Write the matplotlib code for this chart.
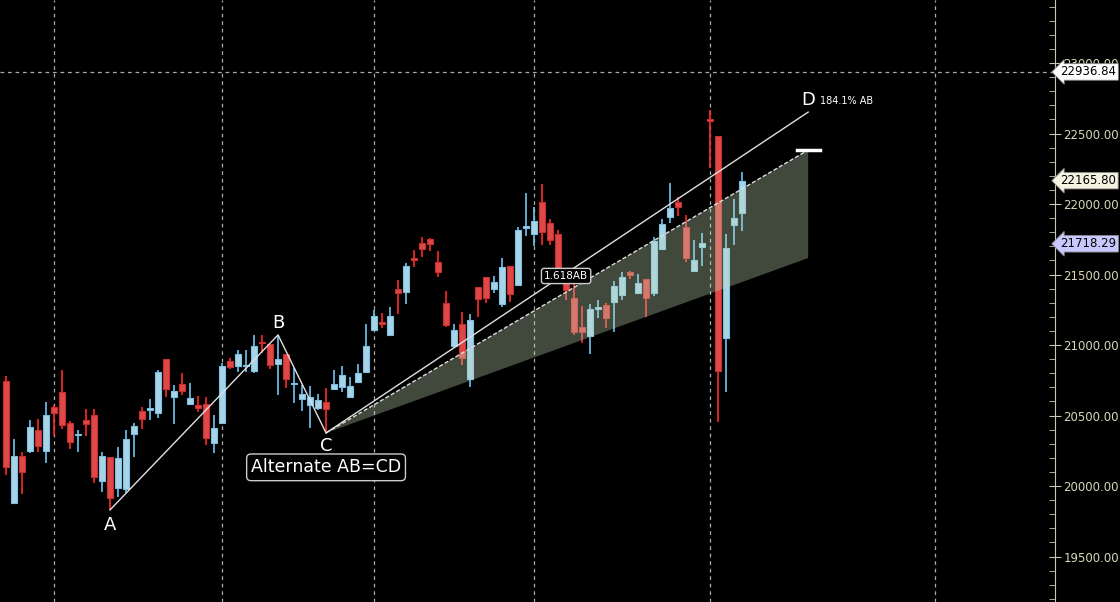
import matplotlib
matplotlib.use("Agg")
import matplotlib.pyplot as plt
import numpy as np

opens = [20745,19880,20214,20249,20398,20249,20561,20667,20448,20363,20469,20504,20036,20207,19987,19980,20370,20533,20540,20518,
         20901,20632,20724,20582,20575,20582,20306,20448,20887,20852,20852,20816,21022,21008,20866,20937,20724,20618,20575,20554,
         20597,20689,20703,20632,20738,20809,21107,21164,21072,21398,21376,21617,21724,21752,21589,21298,20994,21150,20760,21412,
         21483,21398,21291,21560,21426,21830,21788,22014,21866,21788,21461,21334,21128,21064,21256,21284,21306,21355,21518,21369,
         21469,21369,21681,21908,22014,21837,21525,21695,22603,22482,21050,21851,21936]
highs = [20781,20334,20242,20469,20476,20597,20575,20823,20462,20398,20547,20547,20242,20207,20277,20398,20448,20561,20618,20823,
         20901,20717,20802,20731,20639,20632,20504,20873,20908,20965,20965,21072,21072,21008,21072,20937,20838,20717,20710,20653,
         20696,20823,20852,20774,20866,21150,21249,21227,21270,21461,21582,21674,21766,21759,21667,21383,21150,21235,21220,21412,
         21483,21490,21617,21560,21837,22078,21979,22142,21894,21816,21532,21483,21277,21291,21320,21298,21454,21518,21525,21504,
         21469,21766,21894,22149,22050,21922,21745,21795,22667,22482,21788,22036,22227]
lows = [20079,19870,19944,20235,20242,20164,20355,20405,20263,20242,20355,20022,19958,19831,19923,19951,20207,20405,20469,20483,
        20632,20441,20646,20575,20526,20292,20235,20440,20830,20809,20809,20802,20944,20830,20646,20696,20589,20533,20412,20540,
        20377,20685,20667,20625,20730,20800,21100,21121,21065,21220,21291,21554,21625,21667,21483,21128,20980,20859,20703,21199,
        21298,21369,21270,21305,21420,21773,21703,21710,21710,21511,21320,21072,21015,20937,21192,21121,21093,21320,21469,21360,
        21199,21348,21675,21866,21915,21589,21520,21561,22256,20455,20667,21710,21809]
closes = [20136,20214,20100,20419,20285,20504,20518,20433,20313,20370,20441,20065,20214,19916,20199,20334,20426,20476,20554,20809,
          20689,20674,20674,20625,20554,20341,20412,20852,20845,20937,20859,20994,21015,20859,20901,20760,20731,20653,20632,20611,
          20547,20724,20788,20710,20802,20994,21206,21150,21206,21369,21561,21603,21681,21717,21518,21142,21107,20908,21178,21327,
          21334,21447,21554,21362,21816,21844,21880,21802,21745,21539,21391,21093,21093,21256,21270,21192,21419,21483,21497,21440,
          21334,21738,21859,21972,21979,21617,21603,21724,22589,20816,21688,21901,22165.8]

pA, pB, pC = 19831, 21072, 20377
iA, iB, iC = 13, 34, 40
iD, pD = 100.25, 22652
fill_top, fill_bot = 22383, 21617
price_lines = [22936.84, 22165.80, 21718.29]
yticks = [19500, 20000, 20500, 21000, 21500, 22000, 22500, 23000]
vgrid = [6, 27, 46, 66, 88, 116.1]

fig = plt.figure(figsize=(11.2, 6.02), dpi=100, facecolor='black')
ax = fig.add_axes([0, 0, 1055/1120, 1])
ax.set_facecolor('black')
ax.set_xlim(-0.75, 131.1)
ax.set_ylim(19178, 23447)

for x in vgrid:
    ax.axvline(x, color='#aaaaaa', ls=(0, (3, 3)), lw=0.9, zorder=0)
ax.axhline(price_lines[0], color='#aaaaaa', ls=(0, (3, 3)), lw=0.9, zorder=0)

idx = np.arange(len(opens))
for i in idx:
    o, h, l, c = opens[i], highs[i], lows[i], closes[i]
    up = c >= o
    wc = '#6ec6f0' if up else '#ff2a2a'
    fc = '#a8d4e8' if up else '#e04848'
    ec = '#7cc0e4' if up else '#c83030'
    ax.vlines(i, l, h, color=wc, lw=1.2, zorder=2)
    lo, hi = min(o, c), max(o, c)
    hgt = max(hi - lo, 12)
    ax.bar(i, hgt, bottom=lo - (hgt - (hi - lo)) / 2, width=0.72, color=fc, edgecolor=ec, lw=0.8, zorder=3)

# triangle fill
ax.fill([iC, iD, iD], [pC, fill_top, fill_bot], color='#c8dcb8', alpha=0.33, lw=0, zorder=4)
ax.plot([iC, iD], [pC, fill_top], color='#dddddd', ls=(0, (3, 1.5)), lw=1, zorder=5)
ax.plot([iD - 1.4, iD + 1.5], [fill_top, fill_top], color='white', lw=2.5, zorder=5)
# pattern lines
ax.plot([iA, iB, iC], [pA, pB, pC], color='#e0e0e0', lw=1, zorder=5)
ax.plot([iC, iD], [pC, pD], color='#e0e0e0', lw=1, zorder=5)

lab = dict(color='white', fontsize=13, ha='center', zorder=6)
ax.text(iA, pA - 40, 'A', va='top', **lab)
ax.text(iB, pB + 20, 'B', va='bottom', **lab)
ax.text(iC, pC - 30, 'C', va='top', **lab)
ax.text(iD, pD + 20, 'D', va='bottom', **lab)
ax.text(iD + 1.5, pD + 80, '184.1% AB', color='white', fontsize=7, va='center', ha='left', zorder=6)
ax.text(iC, 20133, 'Alternate AB=CD', color='white', fontsize=12.5, ha='center', va='center', zorder=6,
        bbox=dict(boxstyle='round,pad=0.25', fc='black', ec='#cccccc', lw=1))
ax.text(70, 21490, '1.618AB', color='white', fontsize=7.5, ha='center', va='center', zorder=6,
        bbox=dict(boxstyle='round,pad=0.25', fc='black', ec='#cccccc', lw=1))

# right axis
for s in ['top', 'left', 'bottom']:
    ax.spines[s].set_visible(False)
ax.spines['right'].set_color('#c8c8b0')
ax.yaxis.tick_right()
ax.set_yticks(yticks)
ax.set_yticklabels([f'{v:.2f}' for v in yticks], color='#d8d8b8', fontsize=8.5)
ax.set_yticks(np.arange(19200, 23447, 100), minor=True)
ax.tick_params(axis='y', which='major', direction='inout', length=8, color='#c8c8b0', pad=2)
ax.tick_params(axis='y', which='minor', direction='in', length=4, color='#c8c8b0')
ax.set_xticks([])

cols = ['white', '#f4f2e0', '#c8c8ff']
for p, fc in zip(price_lines, cols):
    ax.annotate(f'{p:.2f}', xy=(1.0, p), xycoords=('axes fraction', 'data'), xytext=(4, 0),
                textcoords='offset points', color='black', fontsize=8.5, va='center', ha='left',
                bbox=dict(boxstyle='larrow,pad=0.15', fc=fc, ec='#888888', lw=0.6), zorder=7, annotation_clip=False)

fig.savefig('out.png', dpi=100, facecolor='black')
